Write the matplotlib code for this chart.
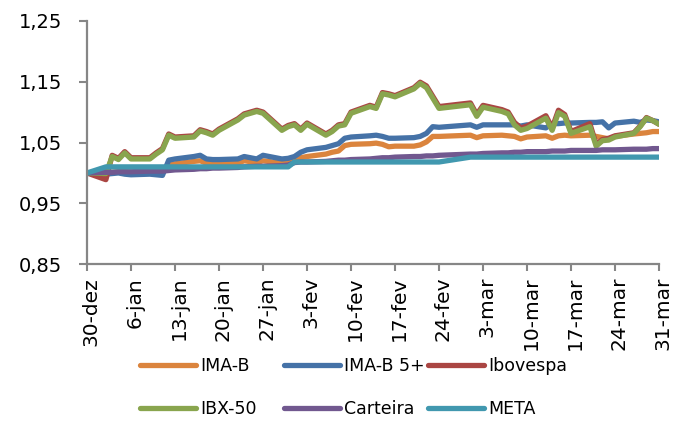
import matplotlib.pyplot as plt
import pandas as pd
from matplotlib.transforms import ScaledTranslation

# datas (dias úteis)
datas = ['2016-12-30',
         '2017-01-02', '2017-01-03', '2017-01-04', '2017-01-05', '2017-01-06',
         '2017-01-09', '2017-01-10', '2017-01-11', '2017-01-12', '2017-01-13',
         '2017-01-16', '2017-01-17', '2017-01-18', '2017-01-19', '2017-01-20',
         '2017-01-23', '2017-01-24', '2017-01-26', '2017-01-27',
         '2017-01-30', '2017-01-31',
         '2017-02-01', '2017-02-02', '2017-02-03',
         '2017-02-06', '2017-02-07', '2017-02-08', '2017-02-09', '2017-02-10',
         '2017-02-13', '2017-02-14', '2017-02-15', '2017-02-16', '2017-02-17',
         '2017-02-20', '2017-02-21', '2017-02-22', '2017-02-23', '2017-02-24',
         '2017-03-01', '2017-03-02', '2017-03-03',
         '2017-03-06', '2017-03-07', '2017-03-08', '2017-03-09', '2017-03-10',
         '2017-03-13', '2017-03-14', '2017-03-15', '2017-03-16', '2017-03-17',
         '2017-03-20', '2017-03-21', '2017-03-22', '2017-03-23', '2017-03-24',
         '2017-03-27', '2017-03-28', '2017-03-29', '2017-03-30', '2017-03-31']

ima_b = [1.000, 1.000, 1.001, 1.002, 1.002, 1.001, 1.002, 1.002, 1.001,
         1.013, 1.015, 1.019, 1.020, 1.016, 1.015, 1.015,
         1.016, 1.020, 1.017, 1.020, 1.016, 1.018,
         1.020, 1.025, 1.027, 1.031, 1.034, 1.036, 1.045, 1.047,
         1.048, 1.049, 1.047, 1.043, 1.044, 1.044, 1.046, 1.051, 1.060, 1.060,
         1.062, 1.058, 1.061, 1.062, 1.061, 1.060, 1.056, 1.059,
         1.061, 1.057, 1.061, 1.062, 1.061, 1.062, 1.060, 1.058, 1.056, 1.060,
         1.064, 1.065, 1.066, 1.068, 1.068]

ima_b5 = [1.000, 0.998, 0.999, 1.000, 0.998, 0.997, 0.998, 0.997, 0.996,
          1.021, 1.023, 1.027, 1.029, 1.023, 1.022, 1.022,
          1.023, 1.027, 1.023, 1.029, 1.023, 1.024,
          1.027, 1.034, 1.038, 1.042, 1.045, 1.048, 1.057, 1.059,
          1.061, 1.062, 1.060, 1.057, 1.057, 1.058, 1.060, 1.065, 1.076, 1.075,
          1.079, 1.075, 1.079, 1.079, 1.079, 1.079, 1.077, 1.079,
          1.074, 1.081, 1.081, 1.082, 1.082, 1.083, 1.083, 1.084, 1.074, 1.082,
          1.085, 1.083, 1.087, 1.086, 1.084]

ibovespa = [1.000, 0.989, 1.029, 1.024, 1.035, 1.025, 1.025, 1.033, 1.040, 1.064, 1.059,
            1.061, 1.071, 1.068, 1.064, 1.072, 1.089, 1.097, 1.103, 1.100, 1.072, 1.078,
            1.081, 1.072, 1.082, 1.064, 1.070, 1.079, 1.081, 1.100,
            1.111, 1.108, 1.132, 1.130, 1.127, 1.140, 1.149, 1.143, 1.126, 1.109,
            1.115, 1.096, 1.111, 1.104, 1.100, 1.083, 1.074, 1.077,
            1.094, 1.074, 1.103, 1.096, 1.068, 1.081, 1.047, 1.055, 1.057, 1.061,
            1.066, 1.077, 1.091, 1.086, 1.080]

ibx50 = [1.000, 0.999, 1.027, 1.022, 1.033, 1.023, 1.023, 1.031, 1.038, 1.062, 1.057,
         1.059, 1.069, 1.066, 1.062, 1.070, 1.087, 1.095, 1.101, 1.098, 1.070, 1.076,
         1.079, 1.070, 1.080, 1.062, 1.068, 1.077, 1.079, 1.098,
         1.109, 1.106, 1.130, 1.128, 1.125, 1.138, 1.147, 1.140, 1.123, 1.106,
         1.112, 1.093, 1.108, 1.101, 1.097, 1.079, 1.070, 1.073,
         1.090, 1.070, 1.099, 1.093, 1.065, 1.076, 1.044, 1.053, 1.054, 1.059,
         1.065, 1.076, 1.090, 1.086, 1.080]

carteira = [1.000, 1.001, 1.001, 1.002, 1.002, 1.002, 1.003, 1.003, 1.003, 1.004, 1.005,
            1.006, 1.007, 1.007, 1.008, 1.008, 1.009, 1.010, 1.011, 1.011, 1.012, 1.013,
            1.017, 1.018, 1.018, 1.019, 1.020, 1.021, 1.021, 1.022,
            1.023, 1.024, 1.025, 1.025, 1.026, 1.027, 1.027, 1.028, 1.028, 1.029,
            1.031, 1.031, 1.032, 1.033, 1.033, 1.034, 1.034, 1.035,
            1.035, 1.036, 1.036, 1.036, 1.037, 1.037, 1.037, 1.038, 1.038, 1.038,
            1.039, 1.039, 1.039, 1.040, 1.040]

meta = [1.000,
        1.010, 1.010, 1.010, 1.010, 1.010, 1.010, 1.010, 1.010, 1.010, 1.010,
        1.010, 1.010, 1.010, 1.010, 1.010, 1.010, 1.010, 1.010, 1.010, 1.010, 1.010,
        1.018, 1.018, 1.018, 1.018, 1.018, 1.018, 1.018, 1.018, 1.018,
        1.018, 1.018, 1.018, 1.018, 1.018, 1.018, 1.018, 1.018, 1.018,
        1.026, 1.026, 1.026, 1.026, 1.026, 1.026, 1.026, 1.026, 1.026, 1.026,
        1.026, 1.026, 1.026, 1.026, 1.026, 1.026, 1.026, 1.026, 1.026, 1.026,
        1.026, 1.026, 1.026]

y_ticks = [0.85, 0.95, 1.05, 1.15, 1.25]
y_labels = ['0,85', '0,95', '1,05', '1,15', '1,25']
x_labels = ['30-dez', '6-jan', '13-jan', '20-jan', '27-jan', '3-fev', '10-fev',
            '17-fev', '24-fev', '3-mar', '10-mar', '17-mar', '24-mar', '31-mar']

series = [('IMA-B', ima_b, '#DB843D'),
          ('IMA-B 5+', ima_b5, '#4572A7'),
          ('Ibovespa', ibovespa, '#AA4643'),
          ('IBX-50', ibx50, '#89A54E'),
          ('Carteira', carteira, '#71588F'),
          ('META', meta, '#4198AF')]

fig = plt.figure(figsize=(6.82, 4.21), dpi=100)
ax = fig.add_axes([0.1276, 0.3722, 0.8387, 0.5786])

x = pd.to_datetime(datas)
linhas = {}
for nome, valores, cor in series:
    linhas[nome], = ax.plot(x, valores, color=cor, lw=3.8, label=nome,
                            solid_capstyle='round', solid_joinstyle='round')

ax.set_xlim(pd.Timestamp('2016-12-30'), pd.Timestamp('2017-03-31'))
ax.set_ylim(0.85, 1.25)
ax.set_yticks(y_ticks)
ax.set_yticklabels(y_labels)
ax.set_xticks(pd.date_range('2016-12-30', periods=len(x_labels), freq='7D'))
ax.set_xticklabels(x_labels)

for s in ['top', 'right']:
    ax.spines[s].set_visible(False)
for s in ['left', 'bottom']:
    ax.spines[s].set_color('#868686')
    ax.spines[s].set_linewidth(1.6)

ax.tick_params(axis='y', direction='out', length=6, width=1.5, color='#868686',
               labelsize=14, pad=12)
ax.tick_params(axis='x', direction='out', length=5, width=1.5, color='#868686',
               labelsize=14.5, pad=4, labelrotation=90)

# rótulos do eixo x um pouco à direita, como no Excel
desloc = ScaledTranslation(0.04, 0, fig.dpi_scale_trans)
for lbl in ax.get_xticklabels():
    lbl.set_transform(lbl.get_transform() + desloc)

# legenda em 3 colunas de largura fixa
colunas = [['IMA-B', 'IBX-50'], ['IMA-B 5+', 'Carteira'], ['Ibovespa', 'META']]
x_col = [140, 284, 428]
for col, xp in zip(colunas, x_col):
    fig.legend([linhas[n] for n in col], col, loc='upper left',
               bbox_to_anchor=(xp / 682, 1 - 357 / 421), frameon=False,
               borderpad=0, borderaxespad=0, handlelength=3.2,
               handletextpad=0.25, labelspacing=1.45, fontsize=12.5)

plt.savefig('out.png', dpi=100)
